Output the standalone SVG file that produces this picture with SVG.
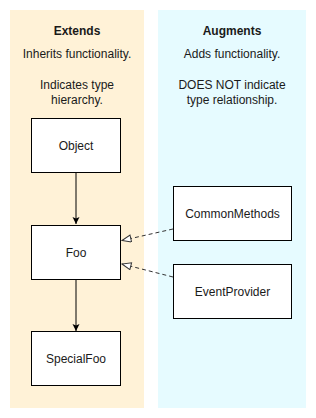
<svg xmlns="http://www.w3.org/2000/svg" width="316" height="418" viewBox="0 0 316 418">
<style>
.lane-ext{fill:#fff2d7;}
.lane-aug{fill:#e6fbff;}
.box{fill:#ffffff;stroke:#000000;stroke-width:1;}
.t{font-family:"Liberation Sans",Arial,Helvetica,sans-serif;font-size:12px;fill:#1a1a1a;text-anchor:middle;}
.h{font-weight:bold;}
.solid{stroke:#000000;stroke-width:1;fill:none;}
.dash{stroke:#333333;stroke-width:1;fill:none;stroke-dasharray:4 3;}
</style>
<defs>
<marker id="filled" markerUnits="userSpaceOnUse" markerWidth="8" markerHeight="8" refX="7" refY="3.5" orient="auto">
<path d="M0,0 L7,3.5 L0,7 L1.5,3.5 Z" fill="#000000"/>
</marker>
<marker id="open" markerUnits="userSpaceOnUse" markerWidth="12" markerHeight="10" refX="10" refY="4" orient="auto">
<path d="M1,0.5 L10,4 L1,7.5 Z" fill="#ffffff" stroke="#333333" stroke-width="1"/>
</marker>
</defs>
<g id="lane-extends">
<rect class="lane-ext" x="10" y="10" width="134" height="398"/>
<text class="t h" x="77" y="35">Extends</text>
<text class="t" x="77" y="58">Inherits functionality.</text>
<text class="t" x="77" y="89">Indicates type</text>
<text class="t" x="77" y="104">hierarchy.</text>
</g>
<g id="lane-augments">
<rect class="lane-aug" x="158" y="10" width="148" height="398"/>
<text class="t h" x="232" y="35">Augments</text>
<text class="t" x="232" y="58">Adds functionality.</text>
<text class="t" x="232" y="89">DOES NOT indicate</text>
<text class="t" x="232" y="104">type relationship.</text>
</g>
<g id="connectors">
<line class="solid" x1="76" y1="172.5" x2="76" y2="224" marker-end="url(#filled)"/>
<line class="solid" x1="76" y1="279.5" x2="76" y2="331" marker-end="url(#filled)"/>
<line class="dash" x1="173" y1="229" x2="122" y2="240.5" marker-end="url(#open)"/>
<line class="dash" x1="173" y1="277" x2="122" y2="264" marker-end="url(#open)"/>
</g>
<g id="node-object">
<rect class="box" x="31.5" y="118.5" width="89" height="54"/>
<text class="t" x="76" y="149.5">Object</text>
</g>
<g id="node-foo">
<rect class="box" x="31.5" y="225.5" width="89" height="54"/>
<text class="t" x="76" y="256.5">Foo</text>
</g>
<g id="node-specialfoo">
<rect class="box" x="31.5" y="331.5" width="89" height="54"/>
<text class="t" x="76" y="362.5">SpecialFoo</text>
</g>
<g id="node-commonmethods">
<rect class="box" x="173.5" y="186.5" width="118" height="54"/>
<text class="t" x="232.5" y="217.5">CommonMethods</text>
</g>
<g id="node-eventprovider">
<rect class="box" x="173.5" y="264.5" width="118" height="54"/>
<text class="t" x="232.5" y="295.5">EventProvider</text>
</g>
</svg>
